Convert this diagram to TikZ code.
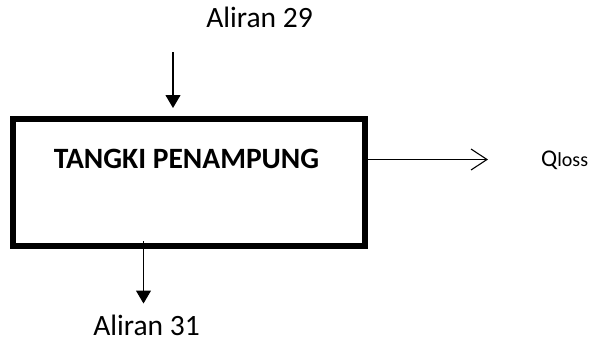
\documentclass[tikz,border=0pt]{standalone}
\usepackage{fontspec}
\setmainfont{Carlito}
\usetikzlibrary{arrows.meta}
\begin{document}
\begin{tikzpicture}[x=1pt,y=-1pt,
  tankbox/.style={draw, line width=6pt, minimum width=352pt, minimum height=127pt, inner sep=0pt},
  labeltext/.style={font=\fontsize{29.5}{35}\selectfont, anchor=base, inner sep=0pt},
  titletext/.style={font=\fontsize{29.5}{35}\selectfont\bfseries, anchor=base, inner sep=0pt},
  flowin/.style={line width=1.1pt, -{Triangle[length=13pt,width=15pt]}},
  flowout/.style={line width=1.1pt, -{Straight Barb[length=16pt,width=21pt,line width=1.1pt]}}]
  \useasboundingbox (0,0) rectangle (596,341);

  % storage tank
  \node[tankbox] (tank) at (188.5,182.5) {};
  \node[titletext] (title) at (186.5,168) {TANGKI PENAMPUNG};

  % stream labels
  \node[labeltext] (in29) at (259.5,27) {Aliran 29};
  \node[labeltext] (out31) at (146.5,335) {Aliran 31};
  \node[anchor=base west, inner sep=0pt] (qloss) at (541,166)
    {\fontsize{24}{28}\selectfont Q\raisebox{-0.5pt}{\fontsize{20}{24}\selectfont loss}};

  % connector end points
  \coordinate (inStart) at (173,52);
  \coordinate (inEnd) at (173,108);
  \coordinate (outStart) at (143.5,241);
  \coordinate (outEnd) at (143.5,303.5);
  \coordinate (lossStart) at (367,159.5);
  \coordinate (lossEnd) at (488,159.5);

  % flows
  \draw[flowin] (inStart) -- (inEnd);
  \draw[flowin] (outStart) -- (outEnd);
  \draw[flowout] (lossStart) -- (lossEnd);
\end{tikzpicture}
\end{document}
